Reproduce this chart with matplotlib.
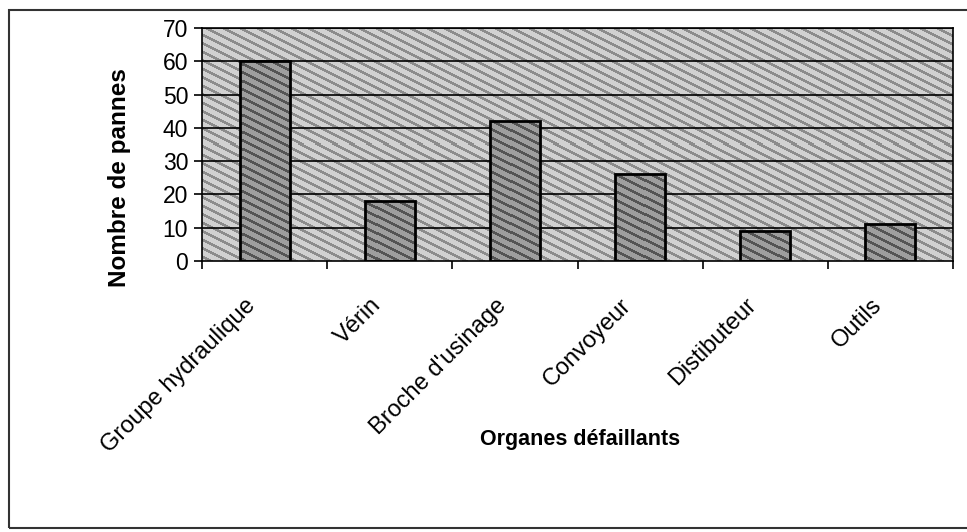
import numpy as np
import matplotlib.pyplot as plt
import matplotlib.transforms as mtransforms
from matplotlib.patches import Rectangle

# Données
organes = ['Groupe hydraulique', 'Vérin', "Broche d'usinage", 'Convoyeur', 'Distibuteur', 'Outils']
pannes = [60, 18, 42, 26, 9, 11]
yticks = [0, 10, 20, 30, 40, 50, 60, 70]

plt.rcParams['font.family'] = ['Liberation Sans', 'DejaVu Sans']


def stripes(w, h, fond, trait, periode=17.0, pente=0.5):
    # texture rayée façon impression Excel
    yy, xx = np.mgrid[0:h, 0:w]
    phase = ((xx - yy / pente) % periode) / periode
    img = np.where(phase < 0.35, trait, fond).astype(float)
    return img


fig = plt.figure(figsize=(9.67, 5.32), dpi=100)
ax = fig.add_axes([202 / 967, 1 - 261 / 532, 751 / 967, 233 / 532])

x = np.arange(len(organes))
ax.set_xlim(-0.5, len(organes) - 0.5)
ax.set_ylim(0, 70)

# fond rayé de la zone de traçage
fond = stripes(751, 233, 0.82, 0.55)
ax.imshow(fond, cmap='gray', vmin=0, vmax=1, extent=[0, 1, 0, 1],
          transform=ax.transAxes, aspect='auto', zorder=0, interpolation='nearest')

for v in yticks[1:]:
    ax.axhline(v, color='black', lw=1.2, zorder=1)

bars = ax.bar(x, pannes, width=0.4, facecolor='none', edgecolor='black', linewidth=2, zorder=3)
tex = stripes(751, 233, 0.62, 0.33)
for b in bars:
    im = ax.imshow(tex, cmap='gray', vmin=0, vmax=1, extent=[0, 1, 0, 1],
                   transform=ax.transAxes, aspect='auto', zorder=2, interpolation='nearest')
    im.set_clip_path(b)

ax.set_yticks(yticks)
ax.set_yticklabels([str(t) for t in yticks], fontsize=16.5)
ax.set_xticks(x)
ax.set_xticklabels(organes, fontsize=17, rotation=45, ha='right', rotation_mode='anchor')
ax.tick_params(axis='x', length=0, pad=24)
ax.set_xticks(np.arange(-0.5, len(organes)), minor=True)
ax.tick_params(axis='x', which='minor', length=6, width=1.2, direction='out')
ax.tick_params(axis='y', length=6, width=1.2, direction='out', pad=4)

# décalage des étiquettes vers la gauche, comme dans Excel
decal = mtransforms.ScaledTranslation(-20 / 100, 0, fig.dpi_scale_trans)
for lab in ax.get_xticklabels():
    lab.set_transform(lab.get_transform() + decal)

for s in ax.spines.values():
    s.set_linewidth(1.2)
    s.set_color('black')

ax.set_ylabel('Nombre de pannes', fontsize=17.5, fontweight='bold')
ax.yaxis.set_label_coords(-0.094, 0.36)
ax.set_xlabel('Organes défaillants', fontsize=15.5, fontweight='bold')
ax.xaxis.set_label_coords(0.503, -0.72)

# cadre extérieur du graphique
fig.patches.append(Rectangle((9 / 967, 4 / 532), 1.0, 1 - 14 / 532, transform=fig.transFigure,
                             fill=False, edgecolor='#333333', lw=1.5))

fig.savefig('out.png', dpi=100)
